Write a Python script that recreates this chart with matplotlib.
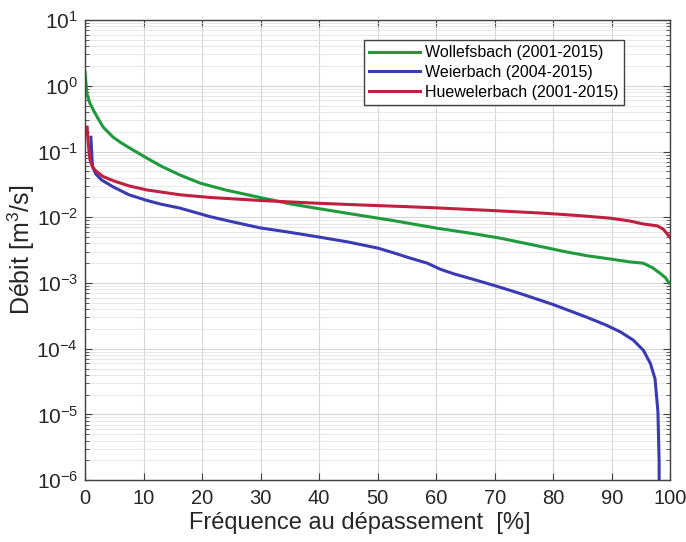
import numpy as np
import matplotlib
matplotlib.use("Agg")
import matplotlib.pyplot as plt
from matplotlib.ticker import LogLocator, NullFormatter, FuncFormatter

plt.rcParams['font.family'] = ['Liberation Sans', 'DejaVu Sans']
plt.rcParams['mathtext.fontset'] = 'custom'
plt.rcParams['mathtext.rm'] = 'Liberation Sans'
plt.rcParams['mathtext.it'] = 'Liberation Sans:italic'
plt.rcParams['mathtext.bf'] = 'Liberation Sans:bold'

# flow duration curves (exceedance % , discharge m3/s)
wol_x = [0.0, 0.3, 0.8, 1.4, 2.2, 3.1, 4.8, 6.2, 7.7, 10.6, 13.0, 16.2, 19.7, 24.0,
         29.9, 35.0, 40.0, 47.0, 53.0, 60.2, 66.0, 71.0, 77.8, 82.0, 85.8, 90.0,
         93.0, 95.4, 97.0, 98.3, 99.2, 99.8]
wol_q = [1.6, 0.77, 0.55, 0.43, 0.32, 0.235, 0.165, 0.135, 0.112, 0.079, 0.060, 0.044,
         0.033, 0.026, 0.020, 0.016, 0.0135, 0.0107, 0.0088, 0.0068, 0.0057, 0.0048,
         0.0036, 0.0030, 0.0026, 0.0023, 0.0021, 0.0020, 0.0017, 0.0014, 0.0012, 0.0010]

wei_x = [1.0, 1.1, 1.2, 1.3, 1.8, 2.8, 4.8, 7.5, 10.6, 13.0, 16.2, 21.4, 25.0, 29.9,
         35.0, 40.0, 45.0, 50.0, 52.6, 55.5, 58.5, 60.7, 63.0, 66.0, 69.7, 74.4, 80.0,
         85.8, 89.0, 91.5, 93.7, 95.4, 96.6, 97.4, 97.9, 98.1, 98.15]
wei_q = [0.165, 0.11, 0.075, 0.058, 0.046, 0.037, 0.029, 0.022, 0.018, 0.0158, 0.0138,
         0.0102, 0.0086, 0.0069, 0.0059, 0.0050, 0.0042, 0.0034, 0.0029, 0.0024, 0.0020,
         0.00162, 0.00138, 0.00116, 0.00093, 0.00069, 0.00047, 0.0003, 0.00023, 0.00018,
         0.000135, 9.5e-5, 6e-5, 3.5e-5, 1.1e-5, 2e-6, 1e-7]

hue_x = [0.35, 0.5, 0.7, 0.85, 1.2, 1.7, 3.0, 4.8, 7.5, 10.6, 16.2, 21.4, 29.9, 40.0,
         47.0, 55.0, 60.0, 70.0, 77.8, 81.2, 85.0, 89.7, 93.0, 95.4, 97.8, 98.8, 99.7,
         100.0]
hue_q = [0.235, 0.15, 0.095, 0.074, 0.06, 0.052, 0.042, 0.036, 0.030, 0.026, 0.022,
         0.020, 0.018, 0.0163, 0.0154, 0.0145, 0.0139, 0.0126, 0.0116, 0.0111, 0.0105,
         0.0097, 0.0088, 0.0079, 0.0074, 0.0066, 0.0053, 0.0049]

names = ["Wollefsbach (2001-2015)", "Weierbach (2004-2015)", "Huewelerbach (2001-2015)"]
colors = ["#1f9a3c", "#3a3ab4", "#c0203f"]

fig = plt.figure(figsize=(6.86, 5.42), dpi=100)
ax = fig.add_axes([0.124, 0.114, 0.853, 0.849])

for xs, qs, name, c in zip([wol_x, wei_x, hue_x], [wol_q, wei_q, hue_q], names, colors):
    ax.semilogy(xs, qs, color=c, lw=2.2, label=name)

ax.set_xlim(0, 100)
ax.set_ylim(1e-6, 10)
ax.set_xticks(np.arange(0, 101, 10))
ax.yaxis.set_major_locator(LogLocator(base=10, numticks=10))
ax.yaxis.set_major_formatter(FuncFormatter(lambda v, p: r"$10^{%d}$" % round(np.log10(v))))
ax.yaxis.set_minor_locator(LogLocator(base=10, subs=np.arange(2, 10), numticks=20))
ax.yaxis.set_minor_formatter(NullFormatter())

ax.grid(True, which="major", color="#d6d6d6", lw=0.8)
ax.grid(True, which="minor", axis="y", color="#e4e4e4", lw=0.6)
ax.set_axisbelow(True)

ax.tick_params(which="both", direction="in", top=True, right=True, colors="#404040",
               labelcolor="#262626")
ax.tick_params(axis="x", labelsize=14.5, pad=6)
ax.tick_params(axis="y", labelsize=15, pad=5)
ax.tick_params(which="major", length=5)
ax.tick_params(which="minor", length=3)
for s in ax.spines.values():
    s.set_color("#404040")
    s.set_linewidth(1.0)

ax.set_xlabel("Fréquence au dépassement  [%]", fontsize=17, color="#262626")
ax.set_ylabel("Débit [m$^3$/s]", fontsize=18, color="#262626")
ax.xaxis.set_label_coords(0.47, -0.069)
ax.yaxis.set_label_coords(-0.082, 0.5)

leg = ax.legend(loc="upper right", bbox_to_anchor=(0.935, 0.975), fontsize=11.5,
                fancybox=False, edgecolor="#404040", framealpha=1,
                handlelength=3.2, handletextpad=0.3, borderpad=0.35, labelspacing=0.3)
leg.get_frame().set_linewidth(1.0)

fig.savefig("out.png", dpi=100)
